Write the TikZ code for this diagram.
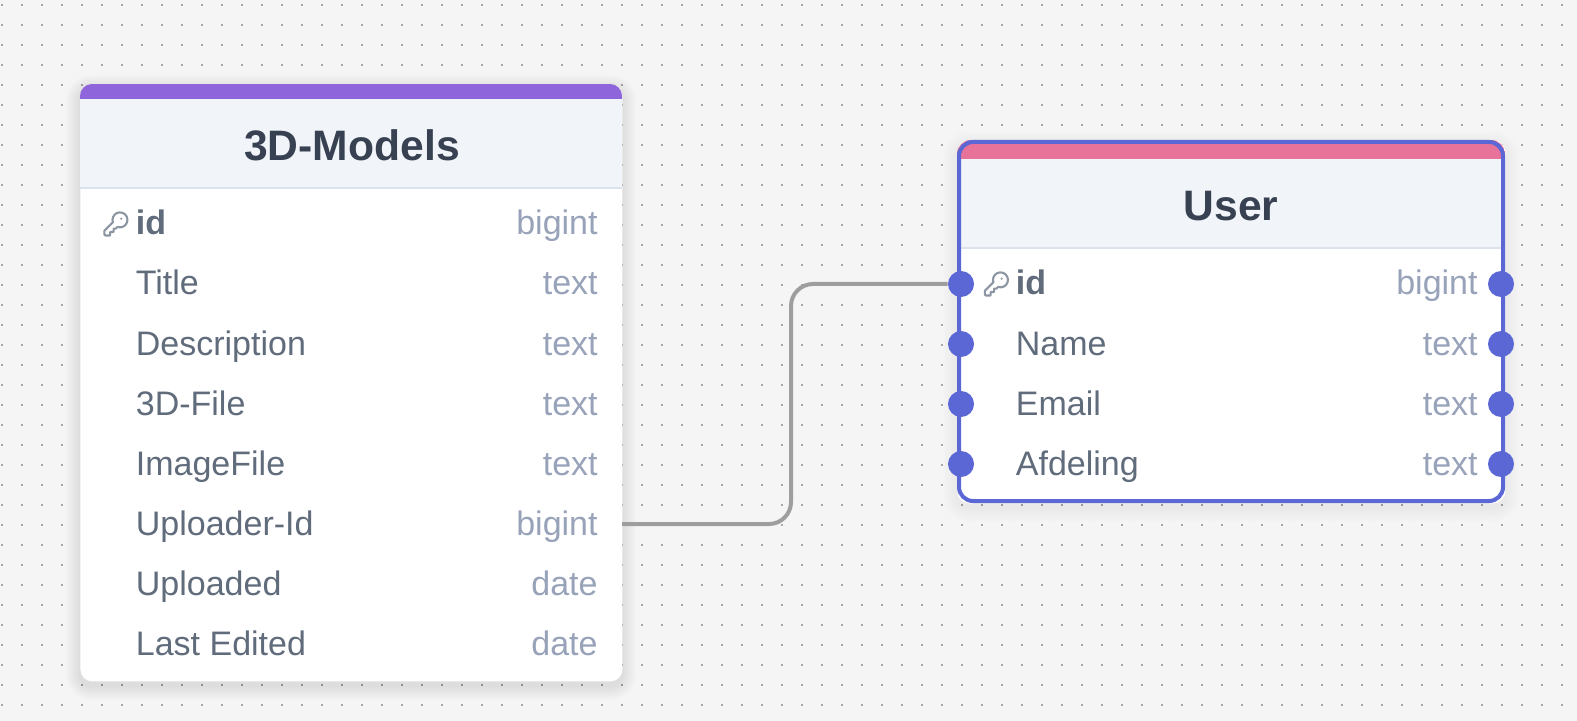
\documentclass[tikz,border=0pt]{standalone}
\usepackage{fontspec}
\setmainfont{Liberation Sans}
\usetikzlibrary{positioning,calc}
\definecolor{canvas}{HTML}{F5F5F5}
\definecolor{griddot}{HTML}{A8A8A8}
\definecolor{headfill}{HTML}{F1F5F9}
\definecolor{headline}{HTML}{DDE3EC}
\definecolor{titleink}{HTML}{374151}
\definecolor{fieldink}{HTML}{606C7B}
\definecolor{typeink}{HTML}{98A3BA}
\definecolor{keyink}{HTML}{8C96A3}
\definecolor{violet}{HTML}{8F65DC}
\definecolor{rose}{HTML}{E8739A}
\definecolor{accent}{HTML}{5C67D6}
\definecolor{linkgray}{HTML}{9E9E9E}
\tikzset{
  tablecard/.style={rectangle,rounded corners=6pt,fill=white,inner sep=0pt,anchor=north west},
  tabletitle/.style={anchor=base,font=\fontsize{21.3}{25}\selectfont\bfseries,text=titleink,inner sep=0pt},
  fieldname/.style={anchor=base west,font=\fontsize{17}{20}\selectfont,text=fieldink,inner sep=0pt},
  fieldkey/.style={anchor=base west,font=\fontsize{17}{20}\selectfont\bfseries,text=fieldink,inner sep=0pt},
  fieldtype/.style={anchor=base east,font=\fontsize{17}{20}\selectfont,text=typeink,inner sep=0pt},
  handle/.style={circle,fill=accent,inner sep=0pt,minimum size=13pt},
  relation/.style={draw=linkgray,line width=2pt,rounded corners=11pt}
}
\newcommand{\CardShadow}[5]{%
  \foreach \grow in {1,...,12}
    \fill[black,opacity=#5,rounded corners=6pt+\grow*0.6pt]
      ($(#1,#2)+(-1.2*\grow,-1.2*\grow+5)$) rectangle ($(#3,#4)+(1.2*\grow,1.2*\grow+5)$);
}
\newcommand{\KeyIcon}[2]{%
  \begin{scope}[shift={(#1,#2)},x=0.58pt,y=-0.58pt,keyink,line width=1.05pt,line cap=round,line join=round]
    \draw (2,18) -- (2,21) .. controls (2,21.6) and (2.4,22) .. (3,22) -- (7,22) -- (7,19) -- (10,19)
      -- (10,16) -- (12,16) -- (13.4,14.6) arc[start angle=109,end angle=-199,radius=6.45] -- cycle;
    \fill (16.5,7.5) circle[radius=1];
  \end{scope}%
}
\begin{document}
\begin{tikzpicture}[x=0.5pt,y=-0.5pt]
  \useasboundingbox (0,0) rectangle (1577,721);
  \fill[canvas] (0,0) rectangle (1577,721);
  \foreach \dotx in {2,22,...,1562}
    \foreach \doty in {5,25,...,705}
      \fill[griddot] (\dotx-1,\doty-1) rectangle (\dotx+1,\doty+1);

  % 3D-Models table
  \CardShadow{80}{84}{622}{681}{0.008}
  \node[tablecard,minimum width=271pt,minimum height=298.5pt] (models) at (80,84) {};
  \begin{scope}
    \clip[rounded corners=6pt] (80,84) rectangle (622,681);
    \fill[headfill] (80,99) rectangle (622,187);
    \fill[violet] (80,84) rectangle (622,99);
    \fill[headline] (80,187) rectangle (622,189);
  \end{scope}
  \node[tabletitle] (modelsTitle) at (352,161) {3D-Models};
  \KeyIcon{102}{210}
  \node[fieldkey] (modelsId) at (135.5,235) {id};
  \node[fieldtype] (modelsIdType) at (598,235) {bigint};
  \foreach \rowy/\rowname/\rowlabel/\rowtype in {295/Title/Title/text,355/Description/Description/text,415/File/3D-File/text,475/ImageFile/ImageFile/text,535/Uploader/Uploader-Id/bigint,595/Uploaded/Uploaded/date,655/Edited/Last Edited/date}{
    \node[fieldname] (models\rowname) at (135.5,\rowy) {\rowlabel};
    \node[fieldtype] (models\rowname Type) at (598,\rowy) {\rowtype};
  }
  \coordinate (modelsOut) at (622,524);

  % User table
  \CardShadow{957}{140}{1505}{503}{0.004}
  \node[tablecard,minimum width=274pt,minimum height=181.5pt] (user) at (957,140) {};
  \begin{scope}
    \clip[rounded corners=7pt] (957,140) rectangle (1505,503);
    \fill[headfill] (957,159) rectangle (1505,247);
    \fill[rose] (957,140) rectangle (1505,159);
    \fill[headline] (957,247) rectangle (1505,249);
  \end{scope}
  \draw[accent,line width=2pt,rounded corners=7pt] (959,142) rectangle (1503,501);
  \node[tabletitle] (userTitle) at (1231,221) {User};
  \KeyIcon{982.5}{270}
  \node[fieldkey] (userId) at (1015.5,295) {id};
  \node[fieldtype] (userIdType) at (1478,295) {bigint};
  \foreach \rowy/\rowname in {355/Name,415/Email,475/Afdeling}{
    \node[fieldname] (user\rowname) at (1015.5,\rowy) {\rowname};
    \node[fieldtype] (user\rowname Type) at (1478,\rowy) {text};
  }

  % connector and handles
  \coordinate (bend) at (791,404);
  \foreach \rowy/\rowname in {284/Id,344/Name,404/Email,464/Afdeling}{
    \node[handle] (left\rowname) at (961,\rowy) {};
    \node[handle] (right\rowname) at (1501,\rowy) {};
  }
  \draw[relation] (modelsOut) -| (bend) |- (leftId.west);
\end{tikzpicture}
\end{document}
